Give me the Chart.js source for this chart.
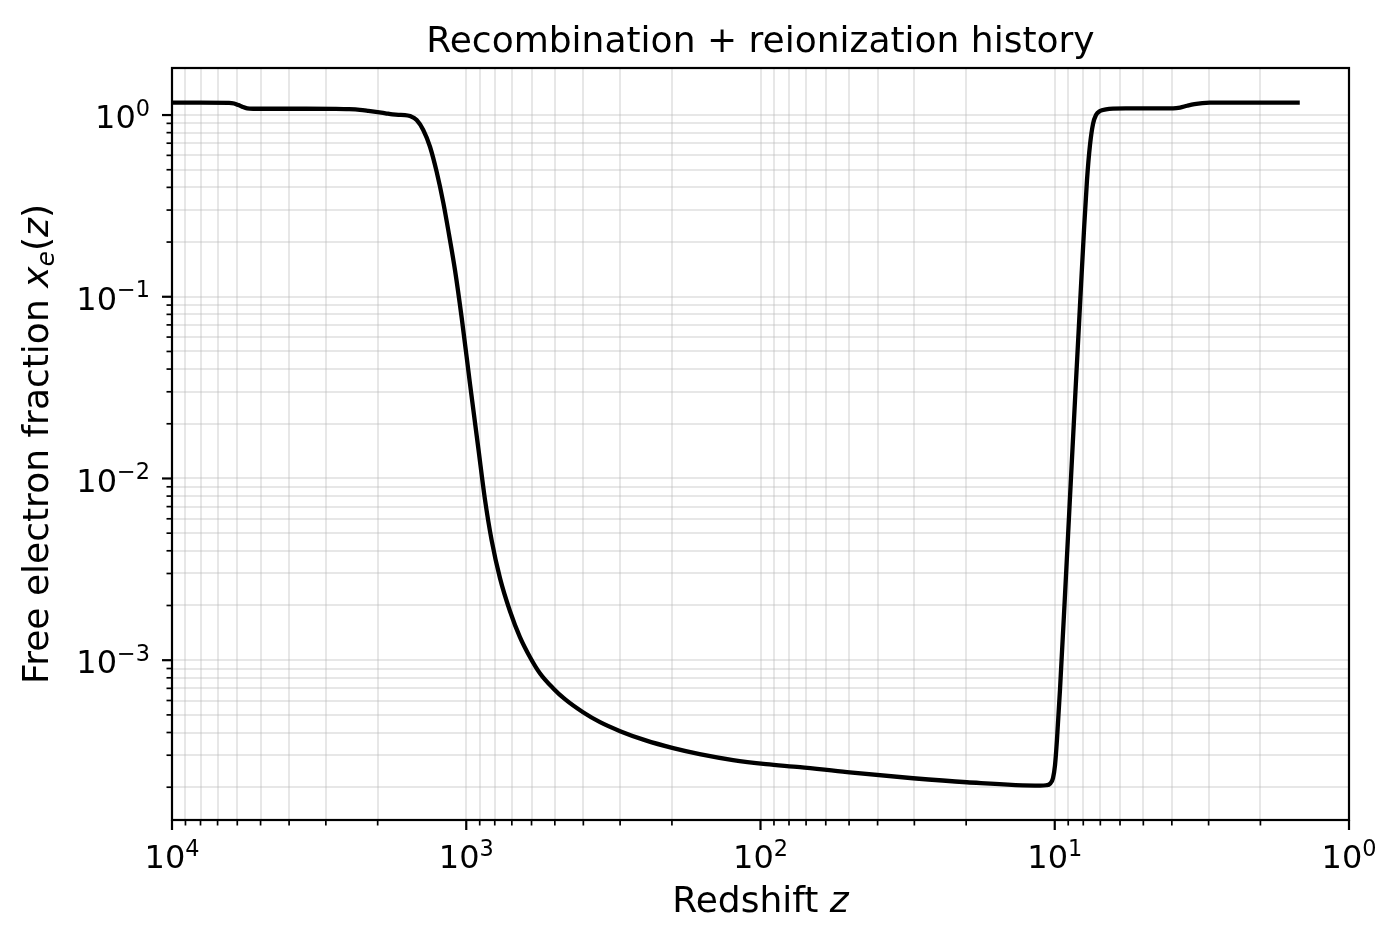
<!DOCTYPE html>
<html>
<head>
<meta charset="utf-8">
<title>Recombination + reionization history</title>
<script src="https://cdn.jsdelivr.net/npm/chart.js@4.4.1/dist/chart.umd.min.js"></script>
<style>
  html, body { margin: 0; padding: 0; background: #fff; }
  canvas { display: block; }
</style>
</head>
<body>
<canvas id="chart" width="1400" height="941"></canvas>
<script>
// redshift z (decreasing) and free electron fraction x_e(z)
const redshift = [
  10000, 8000, 6400, 6150, 5950, 5750, 5550, 5300, 4500, 3500,
  2800, 2500, 2300, 2150, 2000, 1880, 1780, 1700, 1615, 1553,
  1474, 1400, 1328, 1260, 1196, 1145, 1092, 1036, 971, 910,
  864, 820, 768, 710, 657, 607, 562, 507, 462, 401,
  351, 300, 247, 198, 161, 124, 95.8, 73.4, 50.8, 30.3, 19.9,
  11.2, 10.7, 10.38, 10.14, 9.98, 9.83, 9.60, 9.23, 8.875, 8.534,
  8.207, 7.954, 7.770, 7.590, 7.414, 7.242, 7.019, 6.696, 6.340, 5.6,
  4.8, 3.96, 3.75, 3.55, 3.35, 3.15, 2.97, 2.5, 2.0, 1.47
];
const freeElectron = [
  1.169, 1.169, 1.168, 1.158, 1.135, 1.108, 1.088, 1.083, 1.083, 1.083,
  1.081, 1.077, 1.069, 1.055, 1.038, 1.022, 1.008, 1.002, 1.000, 0.987,
  0.9386, 0.827, 0.669, 0.4856, 0.3279, 0.2213, 0.1402, 0.0763, 0.0331, 0.01469,
  0.00769, 0.00458, 0.00283, 0.00186, 0.00134, 0.001039, 0.000848, 0.000701, 0.00061, 0.000517,
  0.000456, 0.000407, 0.000363, 0.000328, 0.000304, 0.000282, 0.000268, 0.000258, 0.000242, 0.000224, 0.000213,
  0.000204, 0.000205, 0.000209, 0.000224, 0.000264, 0.000363, 0.000684, 0.00228, 0.00789, 0.0270,
  0.0900, 0.2328, 0.4386, 0.6837, 0.8921, 1.000, 1.052, 1.075, 1.0845, 1.087,
  1.088, 1.089, 1.100, 1.125, 1.148, 1.163, 1.169, 1.169, 1.169, 1.169
];

// major tick labels (base 10, exponent)
const xTickValues = [1e4, 1e3, 1e2, 1e1, 1e0];
const xTickExps = ["4", "3", "2", "1", "0"];
const yTickValues = [1e0, 1e-1, 1e-2, 1e-3];
const yTickExps = ["0", "\u22121", "\u22122", "\u22123"];

const xMin = 1, xMax = 1e4;
const yMin = 1.32e-4, yMax = 1.815;

const FONT = "'DejaVu Sans', 'Liberation Sans', sans-serif";
const TICK_PX = 32;
const LABEL_PX = 36;

function decadeTicks(lo, hi) {
  const out = [];
  for (let e = Math.floor(Math.log10(lo)); e <= Math.ceil(Math.log10(hi)); e++) {
    for (let m = 1; m <= 9; m++) {
      const v = m * Math.pow(10, e);
      if (v >= lo * 0.9999 && v <= hi * 1.0001) out.push(v);
    }
  }
  return out;
}
function isMajor(v) {
  const l = Math.log10(v);
  return Math.abs(l - Math.round(l)) < 1e-9;
}

// draw "10" with a raised exponent, like mathtext
function drawPower(ctx, exp, x, baseline, align) {
  ctx.font = TICK_PX + "px " + FONT;
  const w1 = ctx.measureText("10").width;
  ctx.font = (TICK_PX * 0.7) + "px " + FONT;
  const w2 = ctx.measureText(exp).width;
  const total = w1 + w2;
  let start = align === "right" ? x - total : x - total / 2;
  ctx.textAlign = "left";
  ctx.textBaseline = "alphabetic";
  ctx.font = TICK_PX + "px " + FONT;
  ctx.fillText("10", start, baseline);
  ctx.font = (TICK_PX * 0.7) + "px " + FONT;
  ctx.fillText(exp, start + w1, baseline - 12.6);
}

function drawRuns(ctx, runs, cx, baseline) {
  let total = 0;
  runs.forEach(r => {
    ctx.font = r.font;
    r.w = ctx.measureText(r.t).width;
    total += r.w;
  });
  let x = cx - total / 2;
  ctx.textAlign = "left";
  ctx.textBaseline = "alphabetic";
  runs.forEach(r => {
    ctx.font = r.font;
    ctx.fillText(r.t, x, baseline + (r.dy || 0));
    x += r.w;
  });
}

const axesDecor = {
  id: "axesDecor",
  afterDraw(chart) {
    const ctx = chart.ctx;
    const a = chart.chartArea;
    const xs = chart.scales.x, ys = chart.scales.y;
    ctx.save();
    ctx.fillStyle = "#000";
    ctx.strokeStyle = "#000";

    // tick marks
    decadeTicks(xMin, xMax).forEach(v => {
      const px = xs.getPixelForValue(v);
      const major = isMajor(v);
      ctx.lineWidth = major ? 2.2 : 1.7;
      ctx.beginPath();
      ctx.moveTo(px, a.bottom);
      ctx.lineTo(px, a.bottom + (major ? 10 : 5.5));
      ctx.stroke();
    });
    decadeTicks(yMin, yMax).forEach(v => {
      const py = ys.getPixelForValue(v);
      const major = isMajor(v);
      ctx.lineWidth = major ? 2.2 : 1.7;
      ctx.beginPath();
      ctx.moveTo(a.left, py);
      ctx.lineTo(a.left - (major ? 10 : 5.5), py);
      ctx.stroke();
    });

    // spines
    ctx.lineWidth = 2.2;
    ctx.strokeRect(a.left, a.top, a.right - a.left, a.bottom - a.top);

    // tick labels
    xTickValues.forEach((v, i) => {
      drawPower(ctx, xTickExps[i], xs.getPixelForValue(v), a.bottom + 48.3, "center");
    });
    yTickValues.forEach((v, i) => {
      drawPower(ctx, yTickExps[i], a.left - 22, ys.getPixelForValue(v) + 13.3, "right");
    });

    const normal = LABEL_PX + "px " + FONT;
    const italic = "italic " + LABEL_PX + "px " + FONT;
    const small = "italic " + (LABEL_PX * 0.7) + "px " + FONT;
    const cx = (a.left + a.right) / 2;

    // title
    drawRuns(ctx, [{ t: "Recombination + reionization history", font: normal }], cx, 52);

    // x axis label
    drawRuns(ctx, [{ t: "Redshift ", font: normal }, { t: "z", font: italic }], cx, 912);

    // y axis label
    ctx.translate(48, (a.top + a.bottom) / 2);
    ctx.rotate(-Math.PI / 2);
    drawRuns(ctx, [
      { t: "Free electron fraction ", font: normal },
      { t: "x", font: italic },
      { t: "e", font: small, dy: 6 },
      { t: "(", font: normal },
      { t: "z", font: italic },
      { t: ")", font: normal }
    ], 0, 0);
    ctx.restore();
  }
};

const gridStyle = {
  color: "rgba(176,176,176,0.3)",
  lineWidth: 2,
  drawTicks: false
};

new Chart(document.getElementById("chart").getContext("2d"), {
  type: "line",
  data: {
    datasets: [{
      data: redshift.map((z, i) => ({ x: z, y: freeElectron[i] })),
      borderColor: "#000",
      borderWidth: 4.3,
      pointRadius: 0,
      fill: false,
      cubicInterpolationMode: "monotone"
    }]
  },
  options: {
    responsive: false,
    animation: false,
    devicePixelRatio: 1,
    layout: { padding: { left: 172, top: 68, right: 51, bottom: 121 } },
    plugins: {
      legend: { display: false },
      title: { display: false },
      tooltip: { enabled: false }
    },
    scales: {
      x: {
        type: "logarithmic",
        reverse: true,
        min: xMin,
        max: xMax,
        grid: gridStyle,
        border: { display: false },
        ticks: { display: false, autoSkip: false },
        afterBuildTicks: s => { s.ticks = decadeTicks(xMin, xMax).map(v => ({ value: v })); },
        afterFit: s => { s.height = 0; }
      },
      y: {
        type: "logarithmic",
        min: yMin,
        max: yMax,
        grid: gridStyle,
        border: { display: false },
        ticks: { display: false, autoSkip: false },
        afterBuildTicks: s => { s.ticks = decadeTicks(yMin, yMax).map(v => ({ value: v })); },
        afterFit: s => { s.width = 0; }
      }
    }
  },
  plugins: [axesDecor]
});
</script>
</body>
</html>
